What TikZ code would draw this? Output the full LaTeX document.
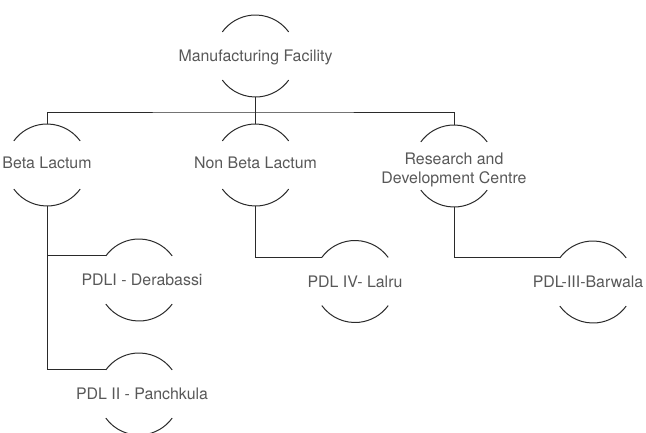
\documentclass[tikz,border=0pt]{standalone}
\usepackage{fontspec}
\setmainfont{TeX Gyre Heros}
\usepackage{tikz}
\usetikzlibrary{positioning}
\definecolor{linecol}{HTML}{2A2A2A}
\definecolor{textcol}{HTML}{585858}
\tikzset{
    unit/.style={circle, minimum size=82pt, inner sep=0pt, outer sep=0pt},
    txt/.style={text=textcol, font=\fontsize{15.9}{19}\selectfont, align=center, inner sep=0pt},
    link/.style={draw=linecol, line width=1pt},
    rim/.style={draw=linecol, line width=1pt}
}
\begin{document}
\begin{tikzpicture}[x=1pt, y=1pt]
    \useasboundingbox (0, 0) rectangle (646, -432);

    \node [unit, label={[txt, yshift=-1pt]center:Manufacturing Facility}] (mf) at (255.5, -56) {};
    \node [unit, label={[txt, yshift=2pt]center:Beta Lactum}] (bl) at (47, -165) {};
    \node [unit, label={[txt, yshift=2pt]center:Non Beta Lactum}] (nbl) at (255.5, -165) {};
    \node [unit, label={[txt, yshift=-4pt]center:{Research and\\Development Centre}}] (rdc) at (454, -166) {};
    \node [unit, label={[txt, xshift=3pt]center:PDLI - Derabassi}] (der) at (139, -280) {};
    \node [unit, label={[txt, xshift=3pt]center:PDL II - Panchkula}] (pan) at (139, -394) {};
    \node [unit, label={[txt]center:PDL IV- Lalru}] (lal) at (355, -281.5) {};
    \node [unit, label={[txt, xshift=-5pt]center:PDL-III-Barwala}] (bar) at (593, -282) {};

    \foreach \n in {mf, bl, nbl, rdc, der, pan, lal, bar} {
        \draw [rim] (\n.36) arc [start angle=36, end angle=144, radius=41pt];
        \draw [rim] (\n.216) arc [start angle=216, end angle=324, radius=41pt];
    }

    \draw [link] (mf.south) -- ++(0, -15) coordinate (bus);
    \draw [link] (bl.north) |- (bus) -| (rdc.north);
    \draw [link] (bus) -- (nbl.north);

    \draw [link] (bl.south) |- (der.144);
    \draw [link] (bl.south) |- (pan.144);
    \draw [link] (nbl.south) |- (lal.144);
    \draw [link] (rdc.south) |- (bar.144);
\end{tikzpicture}
\end{document}
